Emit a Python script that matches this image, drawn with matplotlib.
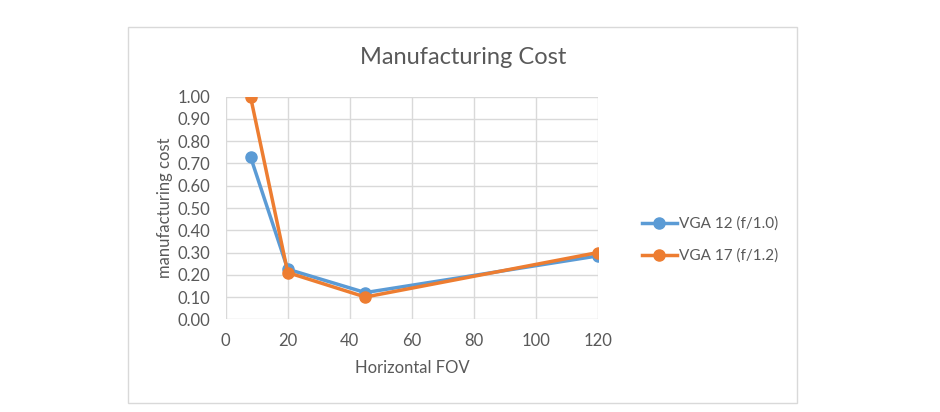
import matplotlib.pyplot as plt
from matplotlib.patches import Rectangle

fov = [8, 20, 45, 120]
vga12 = [0.73, 0.225, 0.12, 0.285]
vga17 = [1.00, 0.21, 0.10, 0.30]
labels = ['VGA 12 (f/1.0)', 'VGA 17 (f/1.2)']

blue = '#5B9BD5'
orange = '#ED7D31'
txt = '#595959'
plt.rcParams['font.family'] = ['Lato', 'DejaVu Sans']

fig = plt.figure(figsize=(9.4, 4.12), dpi=100)
fig.patches.append(Rectangle((128 / 940, 1 - 403 / 412), 669 / 940, 376 / 412,
                             transform=fig.transFigure, fill=False,
                             edgecolor='#D9D9D9', linewidth=1))
ax = fig.add_axes([225.7 / 940, 1 - 319.3 / 412, 372.3 / 940, 222.6 / 412])

ax.plot(fov, vga12, color=blue, lw=2.5, marker='o', ms=8, label=labels[0])
ax.plot(fov, vga17, color=orange, lw=2.5, marker='o', ms=8, label=labels[1])

ax.set_xlim(0, 120)
ax.set_ylim(0, 1.0)
ax.set_xticks(range(0, 121, 20))
ax.set_yticks([i / 10 for i in range(11)])
ax.set_yticklabels(['%.2f' % (i / 10) for i in range(11)])
ax.grid(True, color='#D9D9D9', lw=1)
ax.set_axisbelow(True)
for s in ax.spines.values():
    s.set_visible(False)
ax.tick_params(length=0, labelsize=12, colors=txt, pad=10)
ax.tick_params(axis='y', pad=11)

ax.set_xlabel('Horizontal FOV', fontsize=12, color=txt, labelpad=8)
ax.set_ylabel('manufacturing cost', fontsize=12, color=txt)
ax.yaxis.set_label_coords(-0.141, 0.5)
fig.text(463 / 940, 1 - 58 / 412, 'Manufacturing Cost', fontsize=17,
         color=txt, ha='center', va='center')

fig.legend(loc='center left', bbox_to_anchor=(628 / 940, 1 - 240 / 412),
           frameon=False, fontsize=11, labelcolor=txt, handlelength=2.3,
           handletextpad=0.15, labelspacing=1.15)

fig.savefig('out.png', dpi=100)
